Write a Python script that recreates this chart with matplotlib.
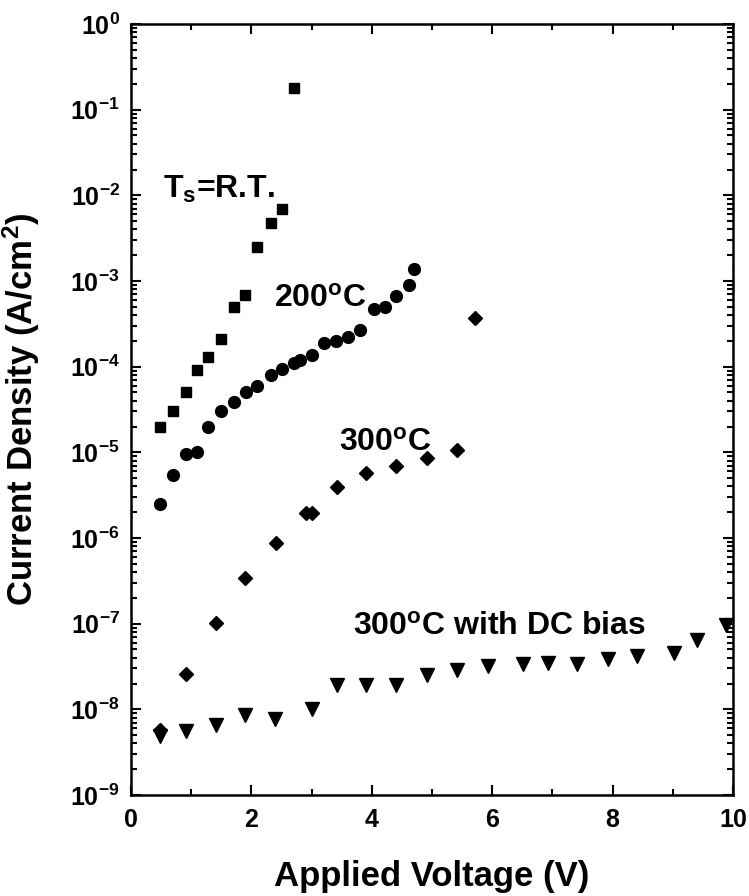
import numpy as np
import matplotlib
matplotlib.use('Agg')
import matplotlib.pyplot as plt
from matplotlib.ticker import LogLocator, NullFormatter, FixedLocator

plt.rcParams['font.family'] = 'Liberation Sans'
plt.rcParams['font.weight'] = 'bold'
plt.rcParams['mathtext.fontset'] = 'custom'
plt.rcParams['mathtext.rm'] = 'Liberation Sans:bold'
plt.rcParams['mathtext.it'] = 'Liberation Sans:bold'
plt.rcParams['mathtext.bf'] = 'Liberation Sans:bold'
plt.rcParams['mathtext.default'] = 'rm'
plt.rcParams['xtick.direction'] = 'in'
plt.rcParams['ytick.direction'] = 'in'

# substrate at room temperature
rt_v = [0.48, 0.69, 0.91, 1.10, 1.28, 1.50, 1.71, 1.90, 2.10, 2.32, 2.51, 2.70]
rt_j = [2.0e-5, 3.0e-5, 5.0e-5, 9.1e-5, 1.3e-4, 2.1e-4, 5.0e-4, 6.9e-4,
        2.5e-3, 4.7e-3, 7.0e-3, 1.8e-1]

# 200 C
t200_v = [0.49, 0.69, 0.91, 1.09, 1.28, 1.49, 1.71, 1.91, 2.10, 2.32, 2.51,
          2.70, 2.81, 3.00, 3.21, 3.41, 3.61, 3.80, 4.04, 4.22, 4.40, 4.62, 4.70]
t200_j = [2.5e-6, 5.4e-6, 9.5e-6, 1.0e-5, 2.0e-5, 3.0e-5, 3.9e-5, 5.0e-5,
          5.9e-5, 8.1e-5, 9.3e-5, 1.1e-4, 1.2e-4, 1.38e-4, 1.9e-4, 2.0e-4,
          2.2e-4, 2.7e-4, 4.7e-4, 5.0e-4, 6.6e-4, 8.9e-4, 1.38e-3]

# 300 C
t300_v = [0.49, 0.91, 1.41, 1.90, 2.41, 2.90, 3.01, 3.42, 3.90, 4.40, 4.91, 5.42, 5.72]
t300_j = [5.8e-9, 2.6e-8, 1.03e-7, 3.4e-7, 8.7e-7, 1.95e-6, 1.95e-6, 3.9e-6,
          5.7e-6, 6.9e-6, 8.5e-6, 1.06e-5, 3.7e-4]

# 300 C with DC bias
dc_v = [0.49, 0.91, 1.41, 1.90, 2.40, 3.01, 3.42, 3.90, 4.40, 4.91, 5.42, 5.93,
        6.52, 6.92, 7.41, 7.92, 8.41, 9.02, 9.41, 9.88]
dc_j = [4.9e-9, 5.6e-9, 6.6e-9, 8.7e-9, 7.8e-9, 1.0e-8, 1.95e-8, 1.95e-8,
        1.95e-8, 2.5e-8, 2.9e-8, 3.2e-8, 3.4e-8, 3.5e-8, 3.4e-8, 3.9e-8,
        4.2e-8, 4.5e-8, 6.5e-8, 9.6e-8]

xticks = [0, 2, 4, 6, 8, 10]
decades = np.arange(-9, 1)

fig = plt.figure(figsize=(7.49, 8.96), dpi=100)
ax = fig.add_axes([0.1749, 0.1127, 0.8037, 0.8605])

ax.plot(rt_v, rt_j, 's', color='black', ms=7.5, clip_on=False)
ax.plot(t200_v, t200_j, 'o', color='black', ms=8.5, clip_on=False)
ax.plot(t300_v, t300_j, 'D', color='black', ms=7, clip_on=False)
ax.plot(dc_v, dc_j, 'v', color='black', ms=10.5, clip_on=False)

ax.set_xlim(0, 10)
ax.set_yscale('log')
ax.set_ylim(1e-9, 1)

ax.set_xticks(xticks)
ax.set_xticklabels([str(v) for v in xticks])
ax.xaxis.set_minor_locator(FixedLocator(np.arange(1, 10, 2)))
ax.yaxis.set_major_locator(FixedLocator(10.0 ** decades))
ax.set_yticklabels([r'$10^{%d}$' % k for k in decades])
ax.yaxis.set_minor_locator(LogLocator(base=10, subs=np.arange(2, 10), numticks=30))
ax.yaxis.set_minor_formatter(NullFormatter())

ax.tick_params(which='both', top=True, right=True, width=1.5)
ax.tick_params(which='major', length=7.5, labelsize=18)
ax.tick_params(which='minor', length=4.5)
ax.tick_params(axis='x', pad=9)
ax.tick_params(axis='y', pad=8)
for s in ax.spines.values():
    s.set_linewidth(1.8)

ax.set_xlabel('Applied Voltage (V)', fontsize=25, fontweight='bold')
ax.set_ylabel(r'Current Density (A/cm$^2$)', fontsize=25, fontweight='bold')
ax.xaxis.set_label_coords(0.5, -0.084)
ax.yaxis.set_label_coords(-0.148, 0.5)

ax.text(0.53, 9.4e-3, r'T$_s$=R.T.', fontsize=23, fontweight='bold')
ax.text(2.375, 5.0e-4, r'200$^o$C', fontsize=23, fontweight='bold')
ax.text(3.46, 1.05e-5, r'300$^o$C', fontsize=23, fontweight='bold')
ax.text(3.69, 7.4e-8, r'300$^o$C with DC bias', fontsize=23, fontweight='bold')

fig.savefig('out.png', dpi=100)
